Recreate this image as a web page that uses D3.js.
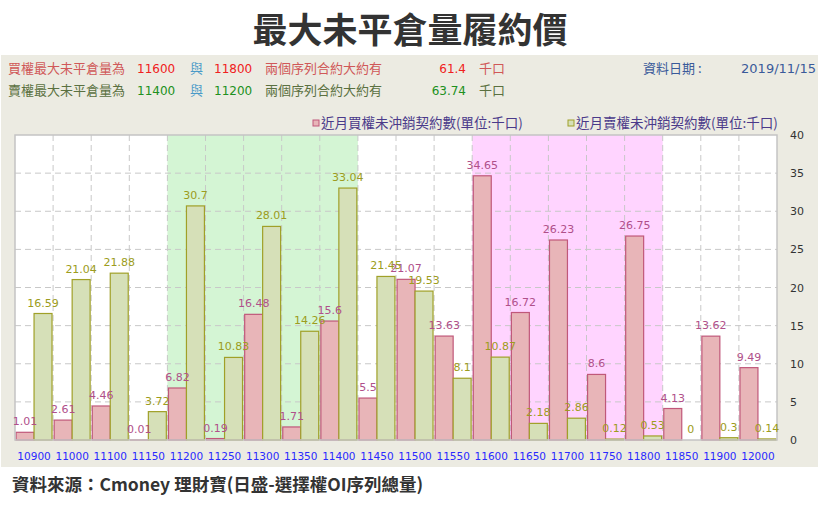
<!DOCTYPE html>
<html>
<head>
<meta charset="utf-8">
<script src="https://cdn.jsdelivr.net/npm/d3@7"></script>
<style>
  body { margin: 0; background: #fff; }
  svg text { font-family: "DejaVu Sans", "Noto Sans CJK TC", sans-serif; }
</style>
</head>
<body>
<svg id="chart" width="820" height="505"></svg>
<script>
const strikes = ['10900', '11000', '11100', '11150', '11200', '11250', '11300', '11350', '11400', '11450',
  '11500', '11550', '11600', '11650', '11700', '11750', '11800', '11850', '11900', '12000']
const callOI = [1.01, 2.61, 4.46, 0.01, 6.82, 0.19, 16.48, 1.71, 15.6, 5.5,
  21.07, 13.63, 34.65, 16.72, 26.23, 8.6, 26.75, 4.13, 13.62, 9.49]
const putOI = [16.59, 21.04, 21.88, 3.72, 30.7, 10.83, 28.01, 14.26, 33.04, 21.45,
  19.53, 8.1, 10.87, 2.18, 2.86, 0.12, 0.53, 0, 0.3, 0.14]
const yTicks = [0, 5, 10, 15, 20, 25, 30, 35, 40]
const putRange = ['11200', '11400']
const callRange = ['11600', '11800']
const dataDate = '2019/11/15'
const callMaxSum = '61.4'
const putMaxSum = '63.74'

const svg = d3.select('#chart')
const cjk = '"Noto Sans CJK TC", sans-serif'

// title
svg.append('text')
  .attr('x', 410).attr('y', 43)
  .attr('text-anchor', 'middle')
  .style('font-family', cjk)
  .attr('font-size', 35).attr('font-weight', 'bold')
  .attr('fill', '#333')
  .text('最大未平倉量履約價')

// beige panel
svg.append('rect')
  .attr('x', 1).attr('y', 55).attr('width', 817).attr('height', 412)
  .attr('fill', '#ecebe2')

// header lines
function headerRow(y, label, a, b, total, c) {
  const g = svg.append('g').attr('font-size', 12)
  g.append('text').attr('x', 8).attr('y', y).attr('font-size', 13).attr('fill', c.label).style('font-family', cjk).text(label)
  g.append('text').attr('x', 137).attr('y', y).attr('fill', c.num).text(a)
  g.append('text').attr('x', 190).attr('y', y).attr('font-size', 13).attr('fill', '#4a9ac8').style('font-family', cjk).text('與')
  g.append('text').attr('x', 214).attr('y', y).attr('fill', c.num).text(b)
  g.append('text').attr('x', 265).attr('y', y).attr('font-size', 13).attr('fill', c.label).style('font-family', cjk).text('兩個序列合約大約有')
  g.append('text').attr('x', 466).attr('y', y).attr('text-anchor', 'end').attr('fill', c.num).text(total)
  g.append('text').attr('x', 479).attr('y', y).attr('font-size', 13).attr('fill', c.label).style('font-family', cjk).text('千口')
}
headerRow(73, '買權最大未平倉量為', callRange[0], callRange[1], callMaxSum, { label: '#d05858', num: '#f02020' })
headerRow(95, '賣權最大未平倉量為', putRange[1], putRange[0], putMaxSum, { label: '#5a7040', num: '#209020' })

svg.append('text').attr('x', 643).attr('y', 73).attr('font-size', 13)
  .style('font-family', cjk).attr('fill', '#3a5a9a').text('資料日期 :')
svg.append('text').attr('x', 816).attr('y', 73).attr('font-size', 13)
  .attr('text-anchor', 'end').attr('fill', '#3a5a9a').text(dataDate)

// plot area
const plotL = 15, plotR = 777, plotT = 135, plotB = 440

const x = d3.scaleBand().domain(strikes).range([plotL, plotR])
const y = d3.scaleLinear().domain([0, 40]).range([plotB, plotT])

svg.append('rect')
  .attr('x', plotL).attr('y', plotT).attr('width', plotR - plotL).attr('height', plotB - plotT)
  .attr('fill', '#fff')

// highlighted strike ranges
svg.append('rect')
  .attr('x', x(putRange[0])).attr('y', plotT)
  .attr('width', x(putRange[1]) + x.bandwidth() - x(putRange[0])).attr('height', plotB - plotT)
  .attr('fill', '#d4f5d4')
svg.append('rect')
  .attr('x', x(callRange[0])).attr('y', plotT)
  .attr('width', x(callRange[1]) + x.bandwidth() - x(callRange[0])).attr('height', plotB - plotT)
  .attr('fill', '#ffd4ff')

// grid
svg.append('g').selectAll('line')
  .data(yTicks.slice(1, -1))
  .join('line')
  .attr('x1', plotL).attr('x2', plotR)
  .attr('y1', d => y(d)).attr('y2', d => y(d))
  .attr('stroke', '#c8c8c8').attr('stroke-dasharray', '6,4')
svg.append('g').selectAll('line')
  .data(strikes.slice(1))
  .join('line')
  .attr('x1', d => x(d)).attr('x2', d => x(d))
  .attr('y1', plotT).attr('y2', plotB)
  .attr('stroke', '#c8c8c8').attr('stroke-dasharray', '6,4')

// bars first, labels afterwards so they sit on top
const inner = d3.scaleBand().domain(['call', 'put']).range([0, x.bandwidth()]).paddingOuter(0.06)
const series = [
  { key: 'call', values: callOI, fill: '#e8b5b8', stroke: '#c0587a', text: '#b0508a' },
  { key: 'put', values: putOI, fill: '#d6e0b8', stroke: '#a0a028', text: '#9c9c20' }
]

series.forEach(s => {
  svg.append('g').selectAll('rect')
    .data(s.values)
    .join('rect')
    .attr('x', (d, i) => x(strikes[i]) + inner(s.key))
    .attr('y', d => y(d))
    .attr('width', inner.bandwidth())
    .attr('height', d => plotB - y(d))
    .attr('fill', s.fill)
    .attr('stroke', d => d > 0 ? s.stroke : 'none')
    .attr('stroke-width', 1.2)
})

// frame
svg.append('rect')
  .attr('x', plotL).attr('y', plotT).attr('width', plotR - plotL).attr('height', plotB - plotT)
  .attr('fill', 'none').attr('stroke', '#c4c4c4').attr('stroke-width', 1.5)

series.forEach(s => {
  svg.append('g').selectAll('text')
    .data(s.values)
    .join('text')
    .attr('x', (d, i) => x(strikes[i]) + inner(s.key) + inner.bandwidth() / 2)
    .attr('y', d => y(d) - 7)
    .attr('text-anchor', 'middle')
    .attr('font-size', 11)
    .attr('fill', s.text)
    .text(d => d)
})

// axes
const yAxis = svg.append('g')
  .attr('transform', `translate(${plotR},0)`)
  .call(d3.axisRight(y).tickValues(yTicks).tickSize(0).tickPadding(13))
yAxis.select('.domain').remove()
yAxis.selectAll('text').attr('font-size', 11).attr('fill', '#333')

const xAxis = svg.append('g')
  .attr('transform', `translate(0,${plotB})`)
  .call(d3.axisBottom(x).tickSize(0).tickPadding(13))
xAxis.select('.domain').remove()
xAxis.selectAll('text').attr('font-size', 10.5).attr('fill', '#2a2aff')

// legend
const legend = [
  { x: 313, fill: '#e8b5b8', stroke: '#c0587a', label: '近月買權未沖銷契約數(單位:千口)' },
  { x: 568, fill: '#d6e0b8', stroke: '#a0a028', label: '近月賣權未沖銷契約數(單位:千口)' }
]
legend.forEach(l => {
  svg.append('rect').attr('x', l.x).attr('y', 120).attr('width', 6).attr('height', 6)
    .attr('fill', l.fill).attr('stroke', l.stroke)
  svg.append('text').attr('x', l.x + 8).attr('y', 127.5).attr('font-size', 13.5)
    .style('font-family', cjk).attr('fill', '#4a3a8a').text(l.label)
})

// source
svg.append('text')
  .attr('x', 12).attr('y', 491)
  .style('font-family', cjk)
  .attr('font-size', 17.5).attr('font-weight', 'bold')
  .attr('fill', '#333')
  .text('資料來源：Cmoney 理財寶(日盛-選擇權OI序列總量)')
</script>
</body>
</html>
